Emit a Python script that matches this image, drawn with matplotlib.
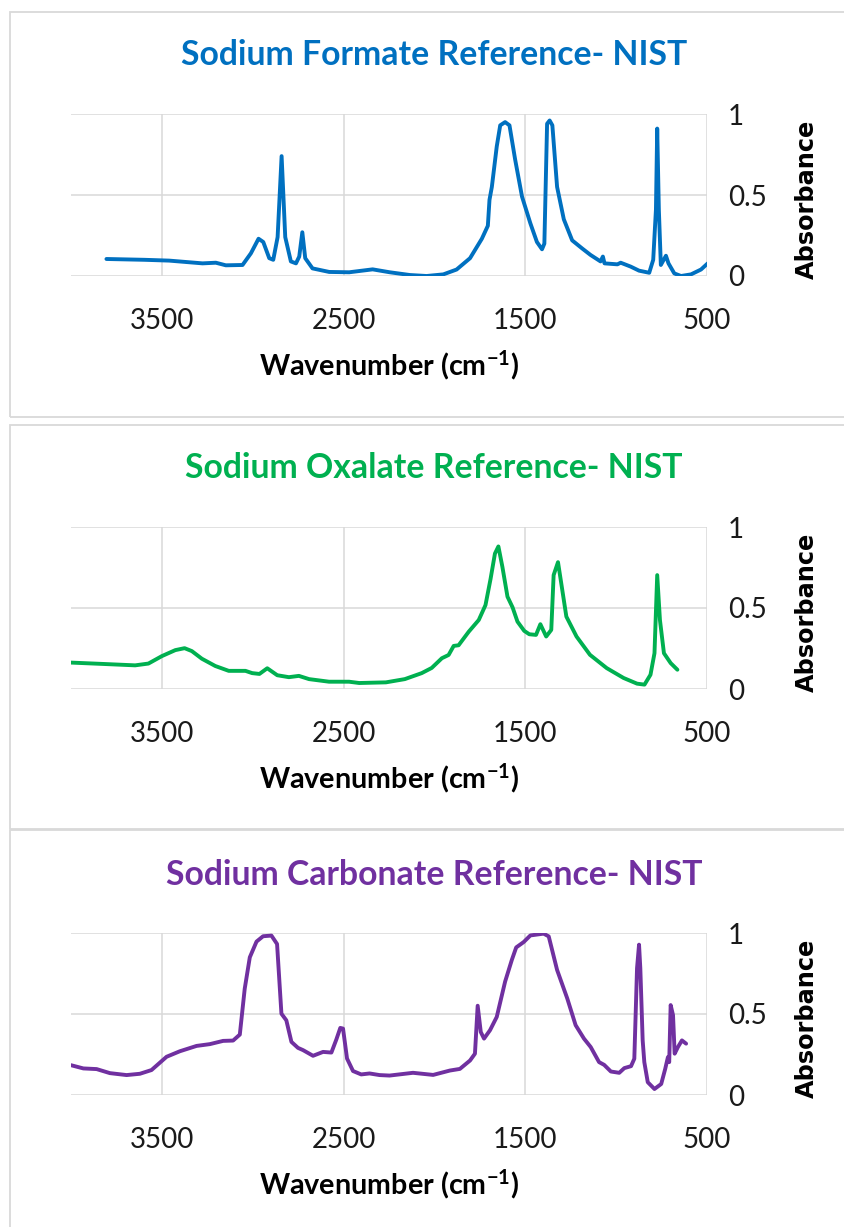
import matplotlib
matplotlib.use("Agg")
import matplotlib.pyplot as plt
from matplotlib.patches import Rectangle

plt.rcParams['font.family'] = ['Lato', 'DejaVu Sans']
plt.rcParams['mathtext.default'] = 'regular'

# ---------------- data ----------------
formate_wn = [3805, 3597, 3460, 3276, 3203, 3148, 3056, 3010, 2968, 2942, 2909, 2887, 2863, 2841, 2821,
              2790, 2762, 2744, 2727, 2711, 2671, 2579, 2469, 2340, 2246, 2135, 2043, 1951, 1878, 1804,
              1739, 1706, 1697, 1684, 1657, 1638, 1611, 1587, 1556, 1518, 1472, 1436, 1408, 1395, 1380,
              1366, 1351, 1325, 1288, 1242, 1187, 1141, 1086, 1073, 1064, 993, 975, 920, 874, 818,
              796, 781, 774, 765, 754, 726, 712, 680, 643, 588, 533, 496]
formate_abs = [0.105, 0.10, 0.095, 0.078, 0.082, 0.066, 0.068, 0.14, 0.23, 0.21, 0.11, 0.10, 0.24, 0.74, 0.24,
               0.09, 0.078, 0.12, 0.27, 0.11, 0.047, 0.025, 0.023, 0.041, 0.023, 0.006, 0.0, 0.01, 0.04, 0.11,
               0.23, 0.31, 0.47, 0.55, 0.80, 0.93, 0.95, 0.93, 0.72, 0.49, 0.325, 0.21, 0.165, 0.20, 0.94,
               0.96, 0.93, 0.55, 0.35, 0.22, 0.17, 0.13, 0.09, 0.12, 0.078, 0.072, 0.082, 0.058, 0.033, 0.02,
               0.10, 0.41, 0.91, 0.41, 0.068, 0.125, 0.078, 0.016, 0.0, 0.01, 0.04, 0.078]

oxalate_wn = [4000, 3831, 3647, 3574, 3500, 3426, 3375, 3335, 3280, 3206, 3132, 3040, 3003, 2963, 2920,
              2865, 2801, 2746, 2690, 2580, 2470, 2414, 2267, 2163, 2070, 2015, 1959, 1922, 1894, 1867,
              1811, 1756, 1719, 1691, 1667, 1648, 1626, 1598, 1570, 1543, 1506, 1478, 1441, 1417, 1385,
              1357, 1344, 1320, 1302, 1274, 1218, 1144, 1052, 959, 885, 844, 811, 789, 774, 759,
              737, 700, 663]
oxalate_abs = [0.163, 0.155, 0.146, 0.157, 0.203, 0.24, 0.252, 0.234, 0.187, 0.142, 0.112, 0.112, 0.098, 0.093, 0.128,
               0.085, 0.073, 0.081, 0.061, 0.045, 0.045, 0.037, 0.041, 0.061, 0.098, 0.13, 0.19, 0.21, 0.266, 0.27,
               0.354, 0.426, 0.518, 0.68, 0.836, 0.88, 0.754, 0.57, 0.504, 0.416, 0.359, 0.338, 0.334, 0.40, 0.324,
               0.365, 0.703, 0.783, 0.652, 0.447, 0.324, 0.211, 0.129, 0.068, 0.033, 0.027, 0.088, 0.221, 0.703, 0.426,
               0.221, 0.16, 0.119]

carbonate_wn = [4000, 3932, 3859, 3786, 3694, 3621, 3557, 3474, 3401, 3309, 3236, 3163, 3108, 3071, 3044,
                3016, 2979, 2943, 2897, 2866, 2842, 2815, 2787, 2751, 2723, 2668, 2613, 2567, 2540, 2518,
                2503, 2481, 2448, 2403, 2357, 2302, 2247, 2118, 2007, 1915, 1860, 1804, 1777, 1762, 1745,
                1727, 1694, 1657, 1611, 1574, 1550, 1509, 1472, 1399, 1371, 1325, 1269, 1223, 1177, 1140,
                1094, 1066, 1029, 983, 955, 918, 900, 885, 874, 867, 854, 845, 826, 789, 752,
                730, 715, 708, 700, 687, 678, 660, 638, 615]
carbonate_abs = [0.184, 0.164, 0.16, 0.135, 0.123, 0.131, 0.154, 0.236, 0.27, 0.303, 0.314, 0.334, 0.336, 0.373, 0.656,
                 0.85, 0.947, 0.98, 0.984, 0.932, 0.502, 0.461, 0.328, 0.291, 0.277, 0.242, 0.266, 0.262, 0.342, 0.414,
                 0.41, 0.225, 0.148, 0.127, 0.133, 0.123, 0.12, 0.137, 0.124, 0.151, 0.161, 0.213, 0.255, 0.551, 0.389,
                 0.348, 0.40, 0.482, 0.70, 0.834, 0.911, 0.944, 0.985, 0.996, 0.979, 0.772, 0.596, 0.431, 0.348, 0.296,
                 0.203, 0.186, 0.145, 0.137, 0.166, 0.178, 0.224, 0.783, 0.928, 0.783, 0.337, 0.203, 0.079, 0.037, 0.068,
                 0.161, 0.234, 0.203, 0.555, 0.493, 0.255, 0.296, 0.337, 0.317]

titles = ["Sodium Formate Reference- NIST", "Sodium Oxalate Reference- NIST", "Sodium Carbonate Reference- NIST"]
colors = ["#0070C0", "#00B050", "#7030A0"]
x_ticks = [3500, 2500, 1500, 500]
y_ticks = [0, 0.5, 1]
y_ticklabels = ["0", "0.5", "1"]
x_label = "Wavenumber (cm$^{-1}$)"
y_label = "Absorbance"

series = [(formate_wn, formate_abs), (oxalate_wn, oxalate_abs), (carbonate_wn, carbonate_abs)]

# ---------------- layout (pixels) ----------------
W, H = 844, 1227
fig = plt.figure(figsize=(W / 100, H / 100), dpi=100)
fig.patch.set_facecolor("white")


def fx(x):
    return x / W


def fy(y):
    return 1 - y / H


layout = [
    dict(box=(12, 417), top=114, bot=276, ty=55, xly=365),
    dict(box=(425, 829), top=527, bot=689, ty=468, xly=778),
    dict(box=(830, 1245), top=933, bot=1095, ty=875, xly=1184),
]
left_px, right_px = 71, 707

renderer = fig.canvas.get_renderer()


def fit_width(t, target, vertical=False):
    bb = t.get_window_extent(renderer)
    cur = bb.height if vertical else bb.width
    t.set_fontsize(t.get_fontsize() * target / cur)


title_texts = []
for i, lay in enumerate(layout):
    y0, y1 = lay["box"]
    fig.add_artist(Rectangle((fx(10), fy(y1)), fx(858) - fx(10), (y1 - y0) / H,
                             transform=fig.transFigure, fill=False,
                             edgecolor="#d9d9d9", linewidth=1.3))
    ax = fig.add_axes([fx(left_px), fy(lay["bot"]), fx(right_px) - fx(left_px),
                       (lay["bot"] - lay["top"]) / H])
    wn, ab = series[i]
    ax.plot(wn, ab, color=colors[i], lw=2.8, solid_joinstyle="round", solid_capstyle="round")
    ax.set_xlim(4000, 500)
    ax.set_ylim(0, 1)
    ax.set_xticks(x_ticks)
    ax.set_xticklabels([str(v) for v in x_ticks])
    ax.set_yticks(y_ticks)
    ax.set_yticklabels(y_ticklabels)
    ax.yaxis.tick_right()
    ax.grid(True, color="#d9d9d9", linewidth=1.1)
    ax.set_axisbelow(True)
    for s in ax.spines.values():
        s.set_visible(False)
    ax.tick_params(axis="both", length=0, labelsize=20, colors="#1a1a1a")
    ax.tick_params(axis="x", pad=23)
    ax.tick_params(axis="y", pad=15)
    for lab in ax.get_yticklabels():
        lab.set_horizontalalignment("left")

    t = fig.text(fx(434), fy(lay["ty"]), titles[i], color=colors[i], fontweight="bold",
                 ha="center", va="center", fontsize=22)
    title_texts.append(t)
    xl = fig.text(fx((left_px + right_px) / 2), fy(lay["xly"]), x_label, fontweight="bold",
                  ha="center", va="center", fontsize=18, color="#000000")
    fit_width(xl, 261)
    yl = fig.text(fx(807), fy((lay["top"] + lay["bot"]) / 2 + 4), y_label, rotation=90,
                  fontweight="bold", family="DejaVu Sans", ha="center", va="center",
                  fontsize=16, color="#000000")
    fit_width(yl, 160, vertical=True)

fit_width(title_texts[0], 506)
for t in title_texts[1:]:
    t.set_fontsize(title_texts[0].get_fontsize())

fig.savefig("out.png", dpi=100, facecolor="white")
